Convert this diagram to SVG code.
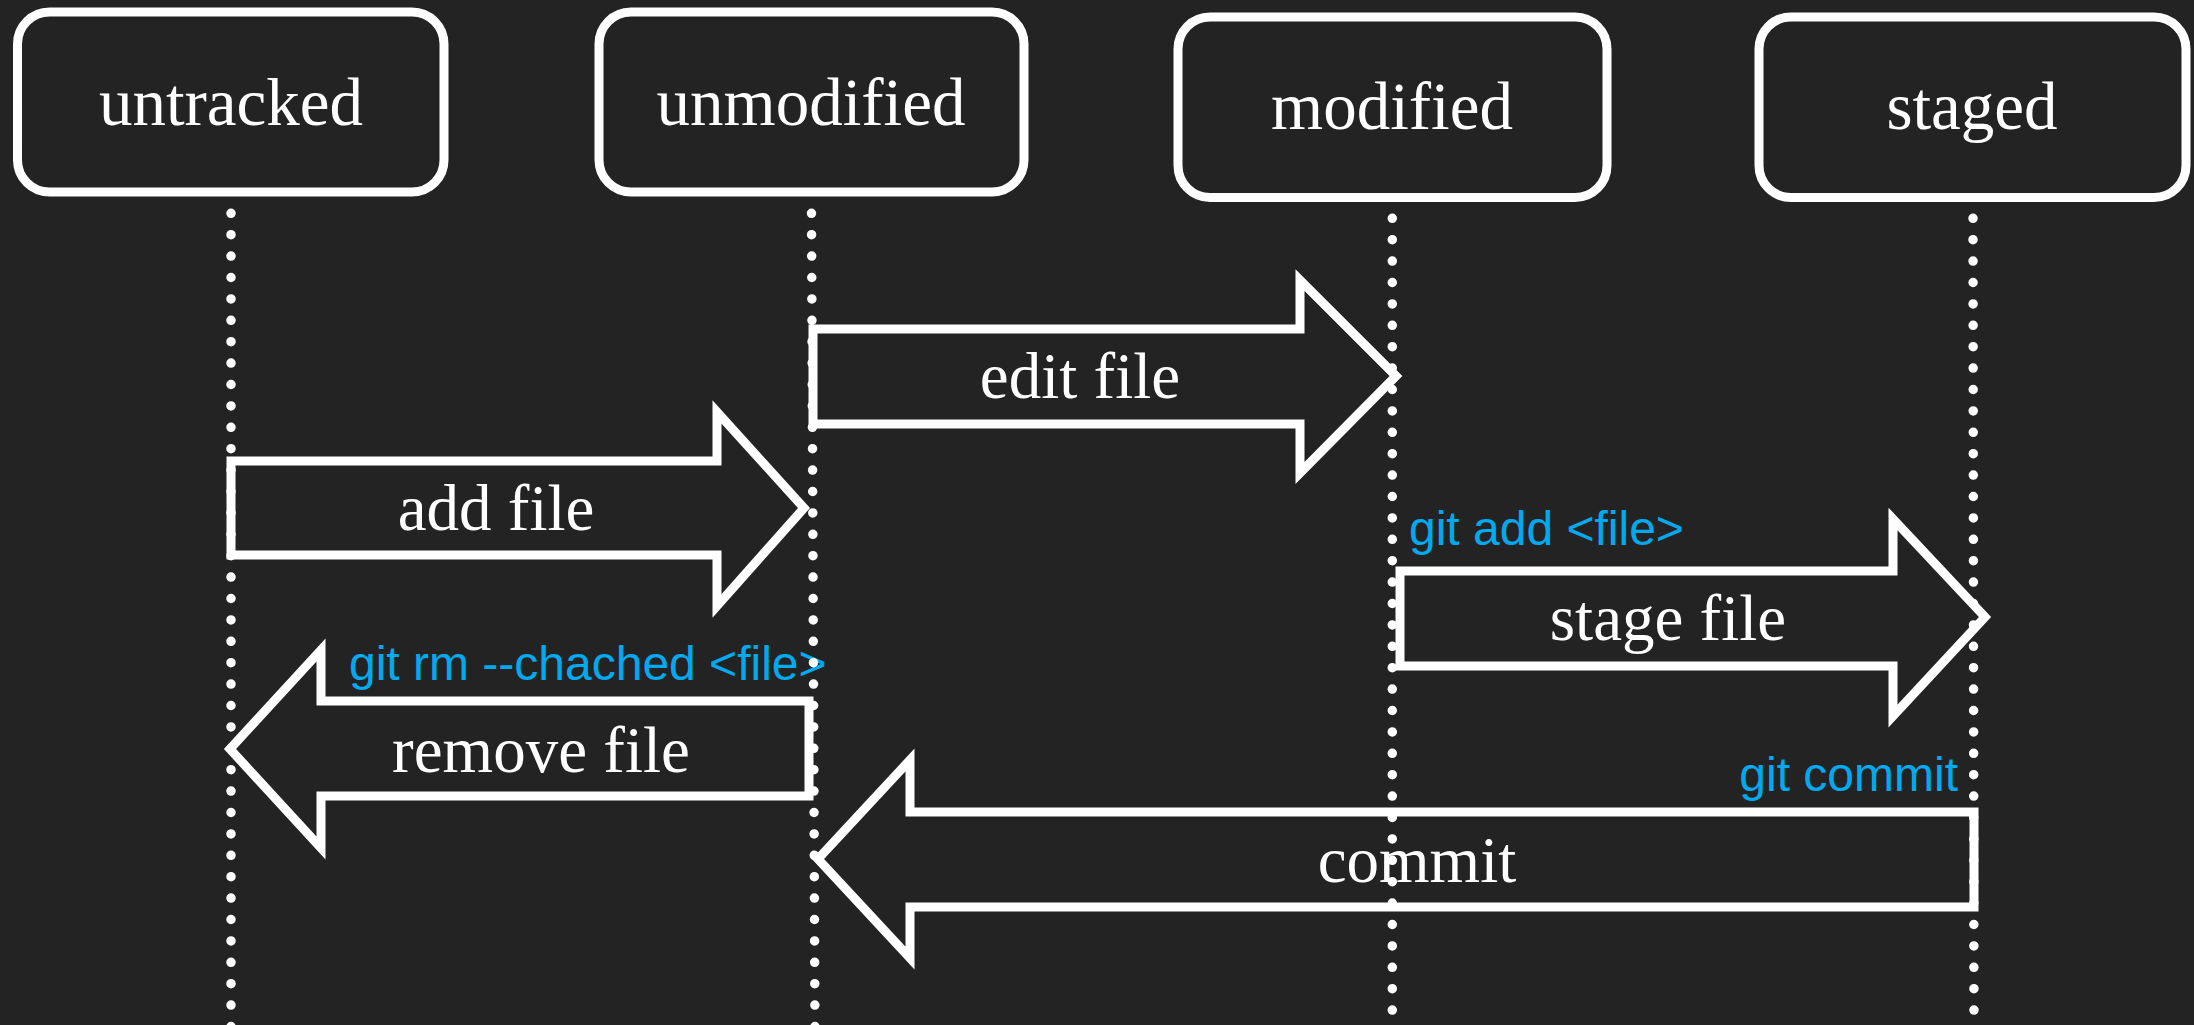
<svg xmlns="http://www.w3.org/2000/svg" width="2194" height="1025" viewBox="0 0 2194 1025">
<style>
.box{fill:none;stroke:#fff;stroke-width:9}
.lbl{font-family:"Liberation Serif","Times New Roman",serif;font-size:67px;fill:#fff;text-anchor:middle}
.alb{font-family:"Liberation Serif","Times New Roman",serif;font-size:65px;fill:#fff;text-anchor:middle}
.cmd{font-family:"Liberation Sans",Arial,sans-serif;font-size:48px;fill:#00AAEE}
.arr{fill:none;stroke:#fff;stroke-width:9;stroke-linejoin:miter;stroke-miterlimit:10}
.life{stroke:#fff;stroke-width:9.5;stroke-linecap:round;stroke-dasharray:0 21.4;fill:none}
</style>
<rect width="2194" height="1025" fill="#232324"/>
<g id="node-untracked">
<rect class="box" x="17.5" y="12" width="426.5" height="180" rx="32"/>
<text class="lbl" x="231" y="125">untracked</text>
</g>
<g id="node-unmodified">
<rect class="box" x="599" y="12" width="425" height="180" rx="32"/>
<text class="lbl" x="811" y="125">unmodified</text>
</g>
<g id="node-modified">
<rect class="box" x="1178" y="17" width="429" height="180.5" rx="32"/>
<text class="lbl" x="1392" y="129">modified</text>
</g>
<g id="node-staged">
<rect class="box" x="1759" y="17" width="427" height="180.5" rx="32"/>
<text class="lbl" x="1972" y="129">staged</text>
</g>
<g id="connectors">
<g id="edit-file">
<path class="arr" d="M813 329 H1300 V280 L1396 376 L1300 473 V424 H813 Z"/>
<text class="alb" x="1080" y="398">edit file</text>
</g>
<g id="add-file">
<path class="arr" d="M231 461 H717 V412 L804 508 L717 606 V555 H231 Z"/>
<text class="alb" x="496" y="530">add file</text>
</g>
<g id="remove-file">
<path class="arr" d="M809 701 H321 V650 L230 749 L321 848 V796 H809 Z"/>
<text class="alb" x="541" y="772">remove file</text>
<text class="cmd" x="349" y="680">git rm --chached &lt;file&gt;</text>
</g>
<g id="stage-file">
<path class="arr" d="M1400 571 H1893 V519 L1985 617 L1893 716 V666 H1400 Z"/>
<text class="alb" x="1668" y="640">stage file</text>
<text class="cmd" x="1409" y="545">git add &lt;file&gt;</text>
</g>
<g id="commit">
<path class="arr" d="M1974 812 H910 V760 L818 859 L910 958 V907 H1974 Z"/>
<text class="alb" x="1417" y="882">commit</text>
<text class="cmd" x="1958" y="791" text-anchor="end">git commit</text>
</g>
<g id="lifelines">
<line class="life" x1="231" y1="213.3" x2="231" y2="1035"/>
<line class="life" x1="811.5" y1="213.3" x2="815" y2="1035"/>
<line class="life" x1="1392.3" y1="218.3" x2="1392.3" y2="1035"/>
<line class="life" x1="1973" y1="218.3" x2="1974" y2="1035"/>
</g>
</g>
</svg>
